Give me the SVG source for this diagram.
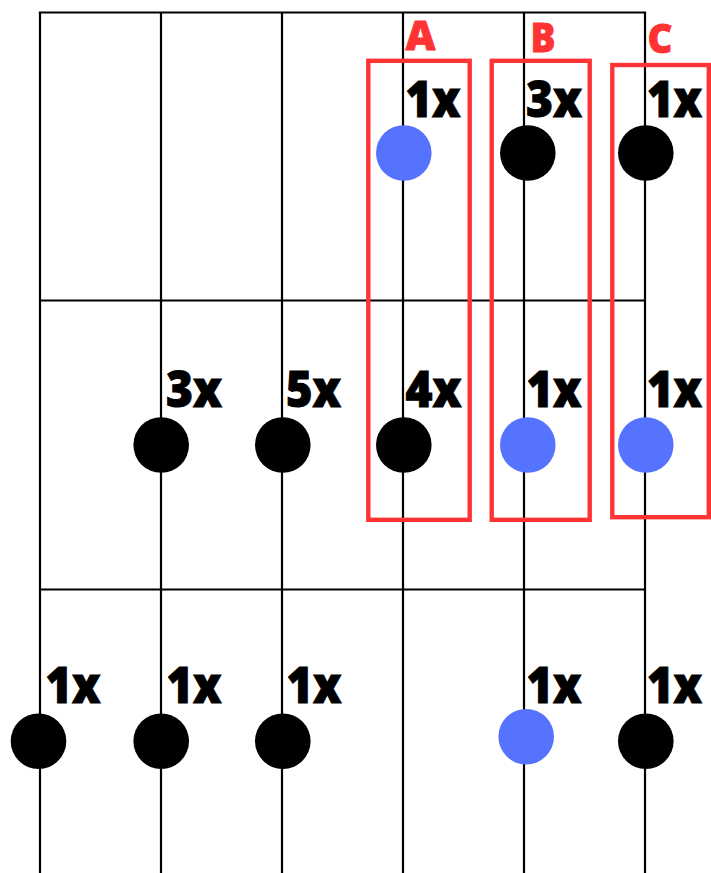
<svg xmlns="http://www.w3.org/2000/svg" width="711" height="873" viewBox="0 0 711 873">
<style>
.ln{stroke:#000;stroke-width:2.2;fill:none}
.blk{fill:#000}
.blu{fill:#5573ff}
.lbl{font-family:"Open Sans","Liberation Sans",sans-serif;font-weight:800;font-size:50px;fill:#000;stroke:#000;stroke-width:1}
.grp{font-family:"Open Sans","Liberation Sans",sans-serif;font-weight:800;font-size:41px;fill:#ff3333;stroke:#ff3333;stroke-width:0.8}
.box{fill:none;stroke:#ff3333;stroke-width:4.4}
</style>
<rect width="711" height="873" fill="#fff"/>
<g id="connectors">
<line class="ln" x1="38.9" y1="12.5" x2="646.1" y2="12.5"/>
<line class="ln" x1="40" y1="300.5" x2="645" y2="300.5"/>
<line class="ln" x1="40" y1="589.5" x2="645" y2="589.5"/>
<line class="ln" x1="40" y1="12" x2="40" y2="873"/>
<line class="ln" x1="161" y1="12" x2="161" y2="873"/>
<line class="ln" x1="282" y1="12" x2="282" y2="873"/>
<line class="ln" x1="403" y1="12" x2="403" y2="873"/>
<line class="ln" x1="524" y1="12" x2="524" y2="873"/>
<line class="ln" x1="645" y1="12" x2="645" y2="873"/>
</g>
<g id="groupA">
<rect class="box" x="368.3" y="60.8" width="101.4" height="459"/>
<text class="grp" x="405.5" y="50" textLength="30" lengthAdjust="spacingAndGlyphs">A</text>
</g>
<g id="groupB">
<rect class="box" x="491.7" y="60.8" width="98" height="459"/>
<text class="grp" x="530.5" y="52" textLength="25" lengthAdjust="spacingAndGlyphs">B</text>
</g>
<g id="groupC">
<rect class="box" x="612.3" y="65" width="96.5" height="452.2"/>
<text class="grp" x="647.5" y="52.5" textLength="25" lengthAdjust="spacingAndGlyphs">C</text>
</g>
<g id="n-r1-A"><circle class="blu" cx="403.8" cy="153" r="27.8"/><text class="lbl" x="405.5" y="117" textLength="55" lengthAdjust="spacingAndGlyphs">1x</text></g>
<g id="n-r1-B"><circle class="blk" cx="527.8" cy="153" r="27.8"/><text class="lbl" x="526" y="117" textLength="56" lengthAdjust="spacingAndGlyphs">3x</text></g>
<g id="n-r1-C"><circle class="blk" cx="645.8" cy="153" r="27.8"/><text class="lbl" x="647" y="117" textLength="55" lengthAdjust="spacingAndGlyphs">1x</text></g>
<g id="n-r2-2"><circle class="blk" cx="161.2" cy="445" r="27.8"/><text class="lbl" x="166" y="407" textLength="56" lengthAdjust="spacingAndGlyphs">3x</text></g>
<g id="n-r2-3"><circle class="blk" cx="282.8" cy="445" r="27.8"/><text class="lbl" x="286" y="407" textLength="55" lengthAdjust="spacingAndGlyphs">5x</text></g>
<g id="n-r2-A"><circle class="blk" cx="403.8" cy="445" r="27.8"/><text class="lbl" x="405.5" y="407" textLength="56" lengthAdjust="spacingAndGlyphs">4x</text></g>
<g id="n-r2-B"><circle class="blu" cx="527.8" cy="445" r="27.8"/><text class="lbl" x="526.5" y="407" textLength="55" lengthAdjust="spacingAndGlyphs">1x</text></g>
<g id="n-r2-C"><circle class="blu" cx="645.8" cy="445" r="27.8"/><text class="lbl" x="647" y="407" textLength="55" lengthAdjust="spacingAndGlyphs">1x</text></g>
<g id="n-r3-1"><circle class="blk" cx="38.5" cy="741.2" r="27.8"/><text class="lbl" x="45.5" y="703" textLength="55" lengthAdjust="spacingAndGlyphs">1x</text></g>
<g id="n-r3-2"><circle class="blk" cx="161.2" cy="741.2" r="27.8"/><text class="lbl" x="166.5" y="703" textLength="55" lengthAdjust="spacingAndGlyphs">1x</text></g>
<g id="n-r3-3"><circle class="blk" cx="282.8" cy="741.2" r="27.8"/><text class="lbl" x="286.5" y="703" textLength="55" lengthAdjust="spacingAndGlyphs">1x</text></g>
<g id="n-r3-B"><circle class="blu" cx="526.2" cy="736.7" r="27.8"/><text class="lbl" x="526.5" y="703" textLength="55" lengthAdjust="spacingAndGlyphs">1x</text></g>
<g id="n-r3-C"><circle class="blk" cx="645.8" cy="741.2" r="27.8"/><text class="lbl" x="647" y="703" textLength="55" lengthAdjust="spacingAndGlyphs">1x</text></g>
</svg>
